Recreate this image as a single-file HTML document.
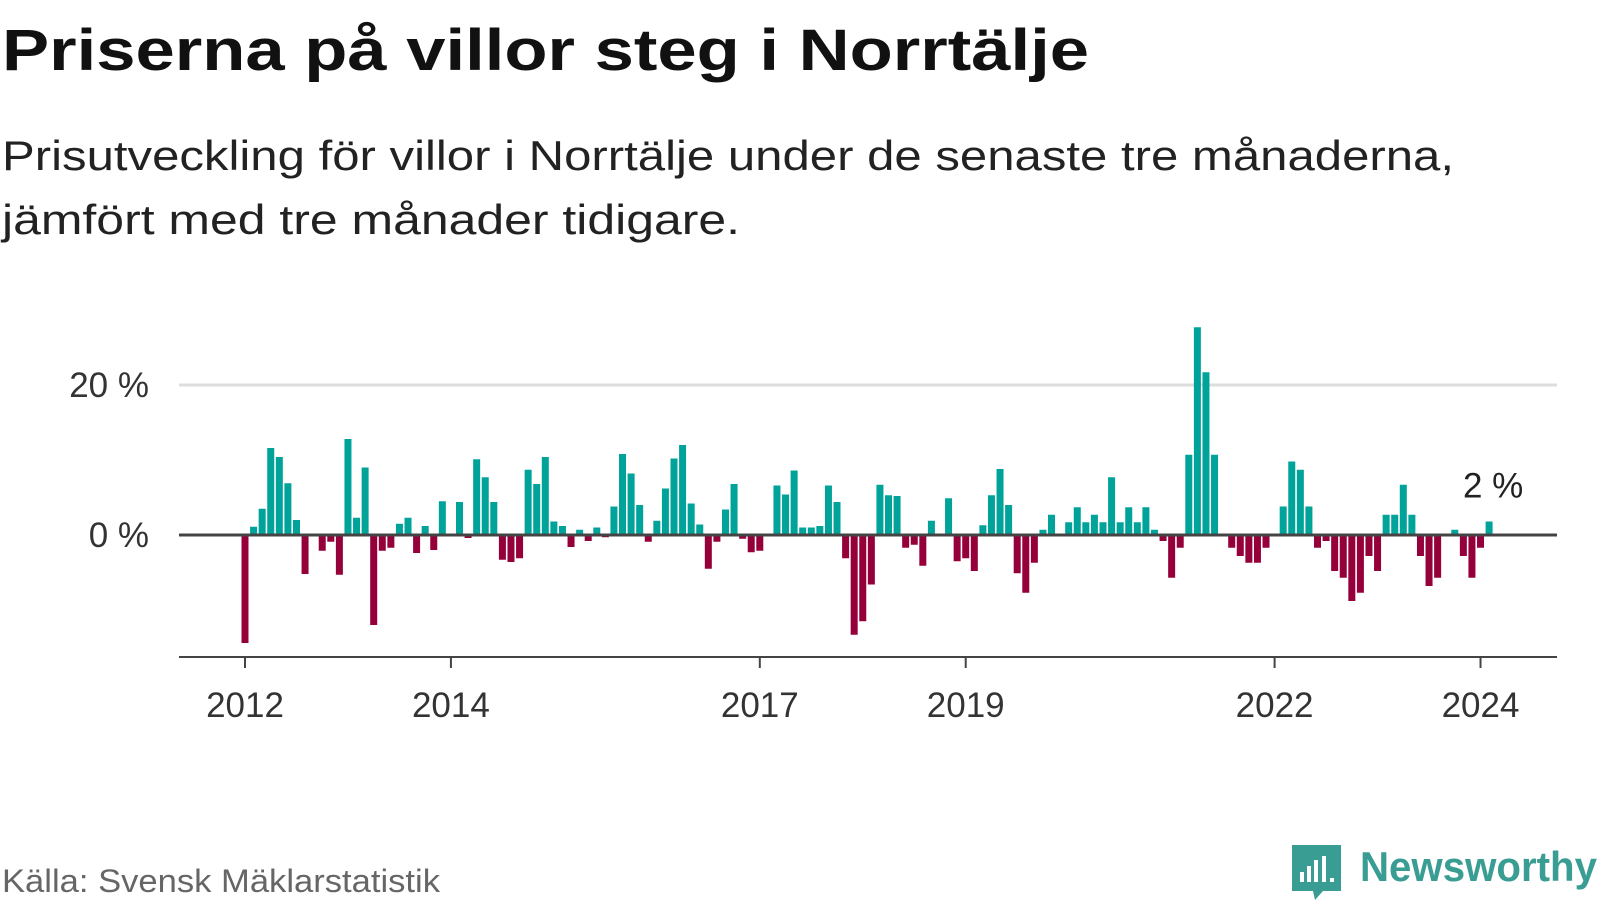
<!DOCTYPE html>
<html><head><meta charset="utf-8"><style>
html,body{margin:0;padding:0;background:#fff;width:1600px;height:900px;overflow:hidden}
svg{display:block;font-family:"Liberation Sans",sans-serif}
</style></head><body>
<svg id="chart" width="1600" height="900" viewBox="0 0 1600 900">
<text x="2" y="70" font-size="58" font-weight="bold" fill="#111" textLength="1087" lengthAdjust="spacingAndGlyphs">Priserna på villor steg i Norrtälje</text>
<text x="2" y="170" font-size="42" fill="#222" textLength="1452" lengthAdjust="spacingAndGlyphs">Prisutveckling för villor i Norrtälje under de senaste tre månaderna,</text>
<text x="2" y="234" font-size="42" fill="#222" textLength="738" lengthAdjust="spacingAndGlyphs">jämfört med tre månader tidigare.</text>
<g id="plot"></g>
<text x="2" y="892" font-size="32" fill="#666" textLength="438" lengthAdjust="spacingAndGlyphs">Källa: Svensk Mäklarstatistik</text>
<g>
<path d="M1292 845 h49 v46 h-18 l-8 9 l-2 -9 h-21 z" fill="#3a9d94"/>
<rect x="1300" y="872" width="4" height="10" fill="#fff"/><rect x="1307" y="866" width="4" height="16" fill="#fff"/><rect x="1314" y="860" width="4" height="22" fill="#fff"/><rect x="1322" y="856" width="4" height="26" fill="#fff"/><rect x="1330" y="878" width="4" height="4" fill="#fff"/>
<text x="1360" y="881" font-size="42" font-weight="bold" fill="#3a9d94" textLength="237" lengthAdjust="spacingAndGlyphs">Newsworthy</text>
</g>
</svg>
<script>
const values = [-14.4,1.1,3.5,11.6,10.4,6.9,2.0,-5.2,0,-2.1,-0.9,-5.3,
12.8,2.3,9.0,-12.0,-2.1,-1.7,1.5,2.3,-2.4,1.2,-2.0,4.5,
0,4.4,-0.4,10.1,7.7,4.4,-3.3,-3.6,-3.1,8.7,6.8,10.4,
1.8,1.2,-1.6,0.7,-0.8,1.0,-0.3,3.8,10.8,8.2,4.0,-0.9,
1.9,6.2,10.2,12.0,4.2,1.4,-4.5,-0.9,3.4,6.8,-0.5,-2.3,
-2.1,0.2,6.6,5.4,8.6,1.0,1.0,1.2,6.6,4.4,-3.1,-13.3,
-11.5,-6.6,6.7,5.3,5.2,-1.7,-1.3,-4.1,1.9,0,4.9,-3.5,
-3.1,-4.8,1.3,5.3,8.8,4.0,-5.1,-7.7,-3.7,0.7,2.7,0,
1.7,3.7,1.7,2.7,1.7,7.7,1.7,3.7,1.7,3.7,0.7,-0.8,
-5.7,-1.7,10.7,27.7,21.7,10.7,0,-1.7,-2.8,-3.7,-3.7,-1.7,
0,3.8,9.8,8.7,3.8,-1.7,-0.8,-4.8,-5.7,-8.8,-7.7,-2.8,
-4.8,2.7,2.7,6.7,2.7,-2.8,-6.8,-5.7,0,0.7,-2.8,-5.7,
-1.7,1.8];
const yTicks = [0,20];
const yTickLabels = ["0 %","20 %"];
const xTickYears = [2012,2014,2017,2019,2022,2024];
const startYear = 2012;
const lastLabel = "2 %";

const NS="http://www.w3.org/2000/svg";
const g=document.getElementById('plot');
const x0=245, pxPerMonth=8.58, zeroY=535, pxPerPct=7.5, left=179, right=1557, bottomY=657;
const xScale=m=>x0+m*pxPerMonth;
const yScale=v=>zeroY-v*pxPerPct;
function mk(tag,attrs){const e=document.createElementNS(NS,tag);for(const k in attrs)e.setAttribute(k,attrs[k]);g.appendChild(e);return e;}

yTicks.forEach((t,i)=>{
  if(t!==0){const l=mk('line',{x1:left,x2:right,y1:yScale(t),y2:yScale(t),stroke:'#ddd','stroke-width':3});
  
  }
  const tx=mk('text',{x:149,y:yScale(t)+12,'text-anchor':'end','font-size':35,fill:'#333'});
  tx.textContent=yTickLabels[i];
  
  
});
values.forEach((v,i)=>{
  const cx=xScale(i);
  const y=v>=0?yScale(v):zeroY;
  const h=Math.abs(v)*pxPerPct;
  if(h<=0)return;
  const r=mk('rect',{x:cx-3.5,y:y,width:7,height:h,fill:v>=0?'#00a39a':'#95003b'});
  
  
});
const zl=mk('line',{x1:left,x2:right,y1:zeroY,y2:zeroY,stroke:'#444','stroke-width':3});


const ax=mk('line',{x1:left,x2:right,y1:bottomY,y2:bottomY,stroke:'#444','stroke-width':2});


xTickYears.forEach(yr=>{
  const x=xScale((yr-startYear)*12);
  const tk=mk('line',{x1:x,x2:x,y1:bottomY,y2:bottomY+11,stroke:'#444','stroke-width':2});
  
  
  const t=mk('text',{x:x,y:717,'text-anchor':'middle','font-size':35,fill:'#333'});
  t.textContent=yr;
  
  
});
const li=values.length-1;
const lab=mk('text',{x:xScale(li)+4,y:yScale(values[li])-24,'text-anchor':'middle','font-size':35,fill:'#222'});
lab.textContent=lastLabel;


</script>
</body></html>
